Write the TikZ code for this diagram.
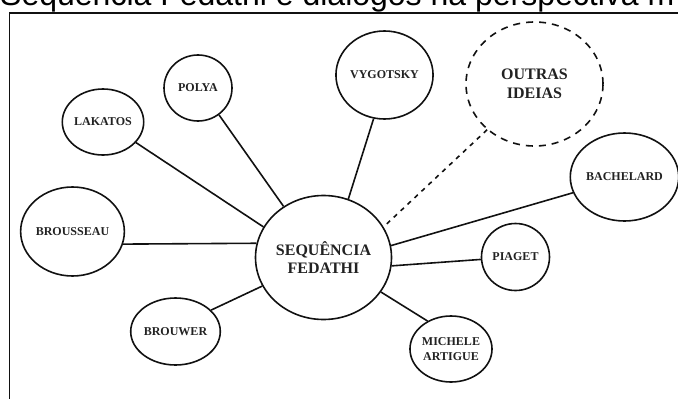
\documentclass[tikz,border=0pt]{standalone}
\usepackage{fontspec}
\setmainfont{Liberation Serif}
\newfontfamily\titlefont{Liberation Sans}
\usetikzlibrary{shapes.geometric}
\definecolor{ink}{HTML}{111111}
\definecolor{txt}{HTML}{222222}

\begin{document}
\begin{tikzpicture}[x=1pt,y=-1pt,
  pers/.style={ellipse, draw=ink, line width=1.6pt, inner sep=0pt,
    text=txt, align=center, font=\bfseries\fontsize{12}{15}\selectfont},
  core/.style={pers, font=\bfseries\fontsize{16}{18.5}\selectfont},
  other/.style={core, dash pattern=on 7pt off 6pt},
  link/.style={draw=ink, line width=1.6pt},
  dotlink/.style={link, dash pattern=on 4.5pt off 5pt}]
\useasboundingbox (0,0) rectangle (678,399);

% heading and outer frame
\node[anchor=base west, inner sep=0pt, text=black,
  font=\titlefont\fontsize{32}{38}\selectfont] (title) at (0,5)
  {Sequência Fedathi e diálogos na perspectiva m};
\draw[line width=1.8pt, draw=ink] (9.5,430) -- (9.5,12.8) -- (700,12.8);

% central idea
\node[core, minimum width=136pt, minimum height=124pt] (seq) at (323.5,257.5)
  {SEQUÊNCIA\\FEDATHI};

% surrounding authors
\node[pers, minimum width=68pt, minimum height=66pt] (polya) at (198,88) {POLYA};
\node[pers, minimum width=66pt, minimum height=66pt] (lakatos) at (103,122) {LAKATOS};
\node[pers, minimum width=97pt, minimum height=88pt] (vygotsky) at (384.5,75) {VYGOTSKY};
\node[other, minimum width=137pt, minimum height=124pt] (outras) at (534.5,84)
  {OUTRAS\\IDEIAS};
\node[pers, minimum width=95pt, minimum height=88pt] (bachelard) at (624.5,177) {BACHELARD};
\node[pers, minimum width=97pt, minimum height=89pt] (brousseau) at (72.5,231.5) {BROUSSEAU};
\node[pers, minimum width=68pt, minimum height=67pt] (piaget) at (515.5,257) {PIAGET};
\node[pers, minimum width=69pt, minimum height=67pt] (brouwer) at (175.5,331.5) {BROUWER};
\node[pers, minimum width=68pt, minimum height=66pt] (artigue) at (451,349)
  {MICHELE\\ARTIGUE};

% connections to the central idea
\draw[link] (polya.-52) -- (seq.128.6);
\draw[link] (lakatos.-32) -- (seq.153.2);
\draw[link] (vygotsky.-104) -- (seq.67.2);
\draw[dotlink] (outras.-136.3) -- (seq.27.4);
\draw[link] (bachelard.197.5) -- (seq.10.4);
\draw[link] (brousseau.-14.3) -- (seq.168.3);
\draw[link] (piaget.184.5) -- (seq.-7);
\draw[link] (brouwer.31) -- (seq.205.5);
\draw[link] (artigue.130.2) -- (seq.-31);
\end{tikzpicture}
\end{document}
